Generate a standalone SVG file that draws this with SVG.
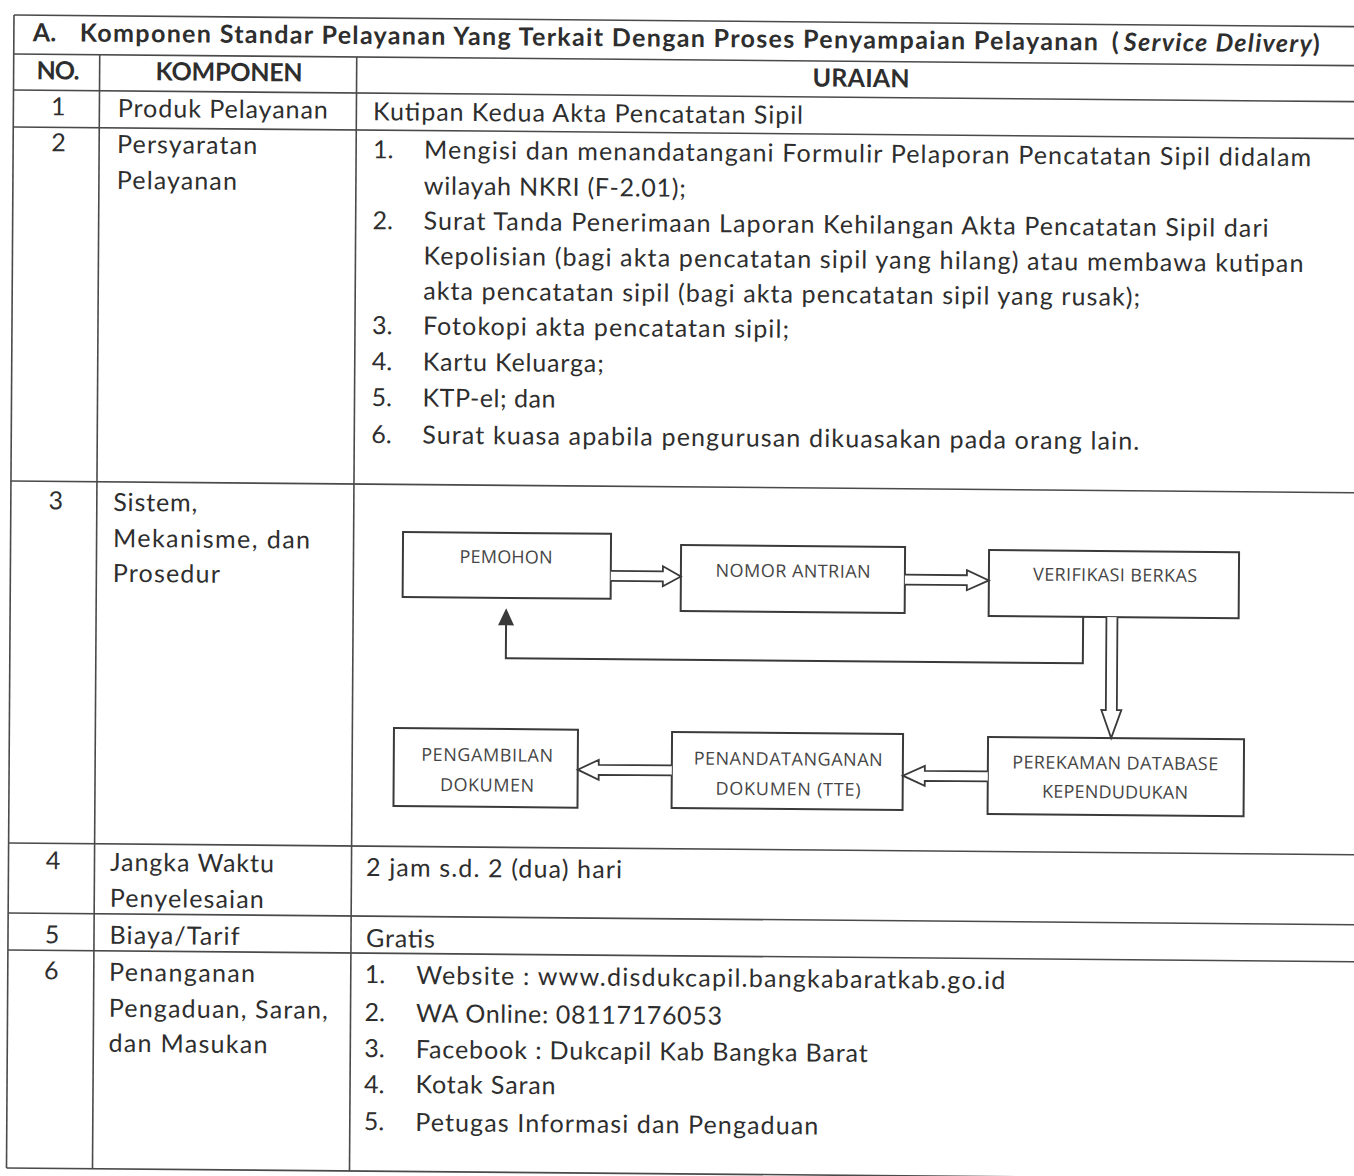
<svg xmlns="http://www.w3.org/2000/svg" width="1354" height="1176" viewBox="0 0 1354 1176">
<style>
.t{font-family:Lato,"Open Sans","Liberation Sans",sans-serif;font-size:25px;fill:#2e2e2e}
.b{font-weight:bold}
.i{font-style:italic}
.n{text-anchor:middle}
.grid line{stroke:#4a4a4a;stroke-width:1.6}
.box rect{fill:#fff;stroke:#3a3a3a;stroke-width:2}
.box text{font-family:"Open Sans","Noto Sans","Liberation Sans",sans-serif;font-size:18px;fill:#454545;text-anchor:middle}
.arr{fill:#fff;stroke:#3a3a3a;stroke-width:1.8;stroke-linejoin:miter}
.fb{fill:none;stroke:#3a3a3a;stroke-width:2}
</style>
<rect width="1354" height="1176" fill="#fff"/>
<g transform="matrix(1 0.0087 -0.0065 1 0.09 -0.12)">
<g id="table-grid" class="grid">
<line x1="14" y1="15" x2="1380" y2="15"/>
<line x1="14" y1="54" x2="1380" y2="54"/>
<line x1="14" y1="90" x2="1380" y2="90"/>
<line x1="14" y1="127" x2="1380" y2="127"/>
<line x1="14" y1="481" x2="1380" y2="481"/>
<line x1="14" y1="843" x2="1380" y2="843"/>
<line x1="14" y1="913" x2="1380" y2="913"/>
<line x1="14" y1="950" x2="1380" y2="950"/>
<line x1="14" y1="1168" x2="1380" y2="1168"/>
<line x1="14" y1="15" x2="14" y2="1168"/>
<line x1="100" y1="54" x2="100" y2="1168"/>
<line x1="357" y1="54" x2="357" y2="1168"/>
</g>
<g id="header">
<text class="t b" x="33" y="41">A.</text>
<text class="t b" x="80" y="41" textLength="1018">Komponen Standar Pelayanan Yang Terkait Dengan Proses Penyampaian Pelayanan</text>
<text class="t b" x="1112" y="41">(</text>
<text class="t b i" x="1124" y="41" textLength="188">Service Delivery</text>
<text class="t b" x="1313" y="41">)</text>
<text class="t b" x="37" y="79" textLength="43">NO.</text>
<text class="t b" x="156" y="79" textLength="147">KOMPONEN</text>
<text class="t b" x="813" y="79.5" textLength="97">URAIAN</text>
</g>
<g id="row1">
<text class="t n" x="59" y="115">1</text>
<text class="t" x="118.5" y="116" textLength="210">Produk Pelayanan</text>
<text class="t" x="373.7" y="117" textLength="430">Kutipan Kedua Akta Pencatatan Sipil</text>
</g>
<g id="row2">
<text class="t n" x="59.5" y="151">2</text>
<text class="t" x="118" y="152" textLength="140">Persyaratan</text>
<text class="t" x="118" y="188" textLength="120">Pelayanan</text>
<text class="t" x="374" y="155">1.</text>
<text class="t" x="425" y="155" textLength="887">Mengisi dan menandatangani Formulir Pelaporan Pencatatan Sipil didalam</text>
<text class="t" x="425" y="191" textLength="262">wilayah NKRI (F-2.01);</text>
<text class="t" x="374" y="226">2.</text>
<text class="t" x="425" y="226" textLength="845">Surat Tanda Penerimaan Laporan Kehilangan Akta Pencatatan Sipil dari</text>
<text class="t" x="425" y="261" textLength="880">Kepolisian (bagi akta pencatatan sipil yang hilang) atau membawa kutipan</text>
<text class="t" x="425" y="296" textLength="717">akta pencatatan sipil (bagi akta pencatatan sipil yang rusak);</text>
<text class="t" x="374" y="331">3.</text>
<text class="t" x="425" y="331" textLength="366">Fotokopi akta pencatatan sipil;</text>
<text class="t" x="374" y="367">4.</text>
<text class="t" x="425" y="367" textLength="181">Kartu Keluarga;</text>
<text class="t" x="374" y="403">5.</text>
<text class="t" x="425" y="403" textLength="133">KTP-el; dan</text>
<text class="t" x="374" y="440">6.</text>
<text class="t" x="425" y="440" textLength="717">Surat kuasa apabila pengurusan dikuasakan pada orang lain.</text>
</g>
<g id="row3">
<text class="t n" x="59" y="509">3</text>
<text class="t" x="116.5" y="510" textLength="84">Sistem,</text>
<text class="t" x="116.5" y="546" textLength="197">Mekanisme, dan</text>
<text class="t" x="116.5" y="581" textLength="107">Prosedur</text>
</g>
<g id="node-pemohon" class="box">
<rect x="406.4" y="528.6" width="208" height="65"/>
<text x="509.6" y="559" textLength="93">PEMOHON</text>
</g>
<g id="node-nomor-antrian" class="box">
<rect x="684.5" y="539.2" width="224" height="66"/>
<text x="796.7" y="570.5" textLength="155">NOMOR ANTRIAN</text>
</g>
<g id="node-verifikasi" class="box">
<rect x="992.5" y="541.5" width="250" height="66"/>
<text x="1118.7" y="571.7" textLength="164">VERIFIKASI BERKAS</text>
</g>
<g id="node-perekaman" class="box">
<rect x="992.7" y="728.5" width="256" height="77"/>
<text x="1120" y="759.7" textLength="206">PEREKAMAN DATABASE</text>
<text x="1120" y="788.7" textLength="146">KEPENDUDUKAN</text>
</g>
<g id="node-penandatanganan" class="box">
<rect x="676.7" y="726.3" width="231" height="76"/>
<text x="793" y="758.6" textLength="189">PENANDATANGANAN</text>
<text x="793" y="788.6" textLength="145">DOKUMEN (TTE)</text>
</g>
<g id="node-pengambilan" class="box">
<rect x="398.6" y="724.7" width="184" height="78"/>
<text x="492" y="757.2" textLength="132">PENGAMBILAN</text>
<text x="492" y="787.2" textLength="94">DOKUMEN</text>
</g>
<g id="connectors">
<path class="arr" d="M614.4,565.6 L666.5,565.6 L666.5,560.6 L684.5,570.6 L666.5,580.6 L666.5,575.6 L614.4,575.6"/>
<path class="arr" d="M908.5,566.9 L970.5,566.9 L970.5,561.9 L992.5,571.9 L970.5,581.9 L970.5,576.9 L908.5,576.9"/>
<path class="arr" d="M1110.3,607.5 L1110.3,700.5 L1105.8,700.5 L1115.8,728.5 L1125.8,700.5 L1121.3,700.5 L1121.3,607.5"/>
<path class="arr" d="M992.7,762.9 L929.7,762.9 L929.7,757.9 L907.7,767.9 L929.7,777.9 L929.7,772.9 L992.7,772.9"/>
<path class="arr" d="M676.7,759.7 L603.6,759.7 L603.6,754.7 L582.6,764.7 L603.6,774.7 L603.6,769.7 L676.7,769.7"/>
<path class="fb" d="M1087,607.5 L1087,654 L510,654 L510,619"/>
<polygon points="510,604 502,621 518,621" fill="#3a3a3a"/>
</g>
<g id="row4">
<text class="t n" x="58.5" y="869">4</text>
<text class="t" x="115.5" y="870" textLength="164">Jangka Waktu</text>
<text class="t" x="115.5" y="906" textLength="154">Penyelesaian</text>
<text class="t" x="371.6" y="873" textLength="256">2 jam s.d. 2 (dua) hari</text>
</g>
<g id="row5">
<text class="t n" x="58" y="943">5</text>
<text class="t" x="115.5" y="943" textLength="130">Biaya/Tarif</text>
<text class="t" x="372" y="944" textLength="69">Gratis</text>
</g>
<g id="row6">
<text class="t n" x="57.5" y="979">6</text>
<text class="t" x="115.3" y="980" textLength="146">Penanganan</text>
<text class="t" x="115.3" y="1016" textLength="219">Pengaduan, Saran,</text>
<text class="t" x="115.3" y="1051" textLength="159">dan Masukan</text>
<text class="t" x="371" y="980">1.</text>
<text class="t" x="422.5" y="980.5" textLength="589">Website : www.disdukcapil.bangkabaratkab.go.id</text>
<text class="t" x="371" y="1018">2.</text>
<text class="t" x="422.5" y="1018.5" textLength="306">WA Online: 08117176053</text>
<text class="t" x="371" y="1054">3.</text>
<text class="t" x="422.5" y="1054.5" textLength="452">Facebook : Dukcapil Kab Bangka Barat</text>
<text class="t" x="371" y="1090">4.</text>
<text class="t" x="422.5" y="1089.5" textLength="140">Kotak Saran</text>
<text class="t" x="371" y="1127">5.</text>
<text class="t" x="422.5" y="1127.5" textLength="403">Petugas Informasi dan Pengaduan</text>
</g>
</g>
</svg>
